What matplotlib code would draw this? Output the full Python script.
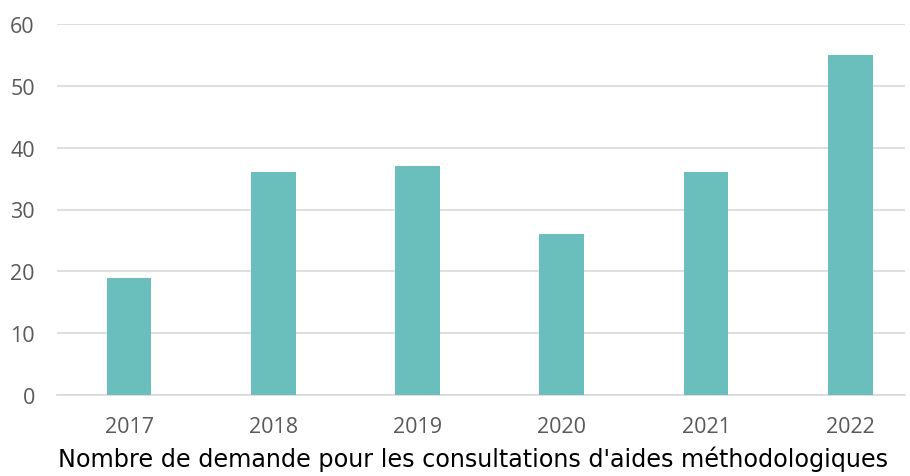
import numpy as np
import matplotlib.pyplot as plt

years = ['2017', '2018', '2019', '2020', '2021', '2022']
demandes = [19, 36, 37, 26, 36, 55]
yticks = [0, 10, 20, 30, 40, 50, 60]
xlabel = "Nombre de demande pour les consultations d'aides méthodologiques"

bar_color = '#6ABFBD'
grid_color = '#D9D9D9'
text_color = '#595959'

fig = plt.figure(figsize=(9.1, 4.77), dpi=100)
ax = fig.add_axes([57 / 910, 81 / 477, 848 / 910, 371 / 477])

x = np.arange(len(years))
ax.bar(x, demandes, width=0.31, color=bar_color, zorder=3)

ax.set_ylim(0, 60)
ax.set_xlim(-0.5, 5.38)
ax.set_yticks(yticks)
ax.set_xticks(x)
ax.set_xticklabels(years)
ax.yaxis.grid(True, color=grid_color, linewidth=1.2, zorder=0)

for side in ['top', 'right', 'left']:
    ax.spines[side].set_visible(False)
ax.spines['bottom'].set_color(grid_color)
ax.spines['bottom'].set_linewidth(1.2)
ax.tick_params(length=0, labelsize=15.5, labelcolor=text_color,
               labelfontfamily='Open Sans')
ax.tick_params(axis='x', pad=15)
ax.tick_params(axis='y', pad=16)

ax.set_xlabel(xlabel, fontsize=17.2, family='DejaVu Sans', color='black',
              labelpad=6)
# title sits a little left of the plot centre in the original
ax.xaxis.label.set_x(0.49)

fig.savefig('out.png', dpi=100)
